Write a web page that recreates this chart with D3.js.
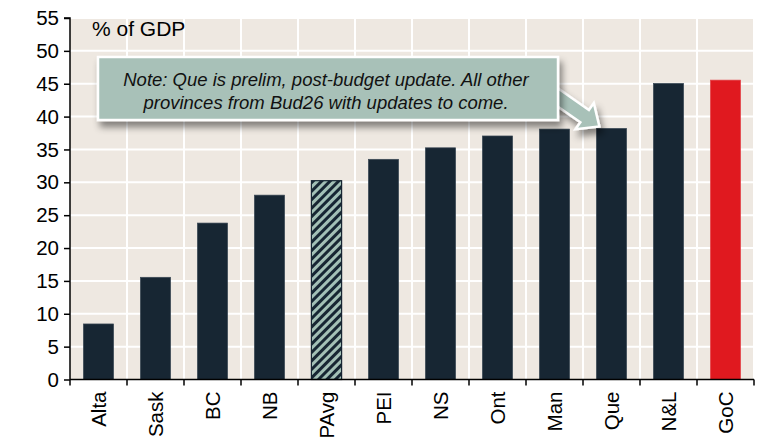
<!DOCTYPE html>
<html>
<head>
<meta charset="utf-8">
<script src="https://cdn.jsdelivr.net/npm/d3@7"></script>
<style>
  html, body { margin: 0; padding: 0; background: #ffffff; }
  svg { display: block; font-family: "Liberation Sans", Arial, sans-serif; }
</style>
</head>
<body>
<svg id="chart" width="764" height="440"></svg>
<script>
// ---- data ----
const categories = ["Alta", "Sask", "BC", "NB", "PAvg", "PEI", "NS", "Ont", "Man", "Que", "N&L", "GoC"];
const values = [8.45, 15.55, 23.8, 28.05, 30.25, 33.5, 35.25, 37.05, 38.1, 38.2, 45.05, 45.55];
const barKinds = ["solid", "solid", "solid", "solid", "hatch", "solid", "solid", "solid", "solid", "solid", "solid", "red"];
const yTicks = [0, 5, 10, 15, 20, 25, 30, 35, 40, 45, 50, 55];
const unitLabel = "% of GDP";
const noteLines = ["Note: Que is prelim, post-budget update. All other", "provinces from Bud26 with updates to come."];
const noteTarget = "Que";

// ---- layout ----
const svg = d3.select("#chart");
const plot = { left: 70, right: 754, top: 18, bottom: 379.5 };

const x = d3.scaleBand().domain(categories).range([plot.left, plot.right])
  .paddingInner(0.47).paddingOuter(0.235);
const y = d3.scaleLinear().domain([0, 55]).range([plot.bottom, plot.top]);

const defs = svg.append("defs");
const pat = defs.append("pattern").attr("id", "hatch")
  .attr("patternUnits", "userSpaceOnUse").attr("width", 6).attr("height", 6)
  .attr("patternTransform", "rotate(45)");
pat.append("rect").attr("width", 6).attr("height", 6).attr("fill", "#a3c0b6");
pat.append("rect").attr("width", 3).attr("height", 6).attr("fill", "#172633");

const shadow = defs.append("filter").attr("id", "shadow")
  .attr("x", "-20%").attr("y", "-40%").attr("width", "150%").attr("height", "200%");
shadow.append("feDropShadow").attr("dx", 3).attr("dy", 6).attr("stdDeviation", 3.5)
  .attr("flood-color", "#000").attr("flood-opacity", 0.45);

// background
svg.append("rect").attr("x", plot.left).attr("y", plot.top)
  .attr("width", plot.right - plot.left).attr("height", plot.bottom - plot.top)
  .attr("fill", "#eee8e1");

// horizontal grid
svg.append("g").selectAll("line").data(yTicks.filter(d => d > 0)).join("line")
  .attr("x1", plot.left).attr("x2", plot.right)
  .attr("y1", d => y(d)).attr("y2", d => y(d))
  .attr("stroke", "#ffffff").attr("stroke-width", 2);

// vertical grid at category boundaries
const step = x.step();
const bounds = d3.range(1, categories.length + 1).map(i => plot.left + i * step);
svg.append("g").selectAll("line").data(bounds).join("line")
  .attr("x1", d => d).attr("x2", d => d)
  .attr("y1", plot.top).attr("y2", plot.bottom)
  .attr("stroke", "#ffffff").attr("stroke-width", 2);

// bars
const fillFor = k => k === "hatch" ? "url(#hatch)" : (k === "red" ? "#e0191f" : "#172633");
const strokeFor = k => k === "hatch" ? "#172633" : (k === "red" ? "#e4474c" : "#3b4956");
svg.append("g").selectAll("rect").data(categories).join("rect")
  .attr("x", d => x(d)).attr("width", x.bandwidth())
  .attr("y", (d, i) => y(values[i])).attr("height", (d, i) => y(0) - y(values[i]))
  .attr("fill", (d, i) => fillFor(barKinds[i]))
  .attr("stroke", (d, i) => strokeFor(barKinds[i]))
  .attr("stroke-width", (d, i) => barKinds[i] === "hatch" ? 1.2 : 0.7);

// axes
const yAxis = d3.axisLeft(y).tickValues(yTicks).tickSize(6).tickPadding(5).tickFormat(d3.format("d"));
const gy = svg.append("g").attr("transform", `translate(${plot.left},0)`).call(yAxis);
gy.select(".domain").attr("stroke", "#000").attr("stroke-width", 1.5).attr("d", `M-6,${plot.top}H0V${plot.bottom}`);
gy.selectAll(".tick line").attr("stroke", "#000").attr("stroke-width", 1.5);
gy.selectAll(".tick text").attr("font-size", 20.5).attr("fill", "#000")
  .attr("font-family", "Liberation Sans, Arial, sans-serif");

const xAxis = d3.axisBottom(x).tickSize(0).tickPadding(0);
const gx = svg.append("g").attr("transform", `translate(0,${plot.bottom})`).call(xAxis);
gx.select(".domain").attr("stroke", "#000").attr("stroke-width", 1.5).attr("d", `M${plot.left},0H${plot.right}`);
gx.selectAll(".tick text")
  .attr("font-size", 20.5).attr("fill", "#000")
  .attr("font-family", "Liberation Sans, Arial, sans-serif")
  .attr("text-anchor", "end").attr("dy", null).attr("y", 0)
  .attr("transform", "translate(7.5,12) rotate(-90)");
// boundary ticks
gx.append("g").selectAll("line").data([plot.left].concat(bounds)).join("line")
  .attr("x1", d => d).attr("x2", d => d).attr("y1", 0).attr("y2", 6)
  .attr("stroke", "#000").attr("stroke-width", 1.5);

// unit label
svg.append("text").attr("x", 92).attr("y", 36).attr("font-size", 21).attr("fill", "#000")
  .text(unitLabel);

// callout arrow (behind box)
const tx = x(noteTarget) + 3, ty = y(values[categories.indexOf(noteTarget)]) - 2;
const sx = 530, sy = 78;
const ang = Math.atan2(ty - sy, tx - sx);
const ux = Math.cos(ang), uy = Math.sin(ang), px = -uy, py = ux;
const len = Math.hypot(tx - sx, ty - sy);
const hw = 7.5, hh = 16, hl = 18;
const P = (a, b) => [sx + ux * a + px * b, sy + uy * a + py * b];
const arrowPts = [P(0, -hw), P(len - hl, -hw), P(len - hl, -hh), P(len, 0), P(len - hl, hh), P(len - hl, hw), P(0, hw)];
svg.append("polygon").attr("points", arrowPts.map(p => p.join(",")).join(" "))
  .attr("fill", "#a8c1b8").attr("stroke", "#ffffff").attr("stroke-width", 2.5)
  .attr("stroke-linejoin", "miter").attr("filter", "url(#shadow)");

// callout box
const box = { x: 98, y: 57, w: 460, h: 63 };
svg.append("rect").attr("x", box.x).attr("y", box.y).attr("width", box.w).attr("height", box.h)
  .attr("fill", "#a8c1b8").attr("stroke", "#ffffff").attr("stroke-width", 2.5)
  .attr("filter", "url(#shadow)");
svg.append("g").selectAll("text").data(noteLines).join("text")
  .attr("x", box.x + box.w / 2 - 2).attr("y", (d, i) => box.y + 29 + i * 23)
  .attr("text-anchor", "middle").attr("font-size", 18.5).attr("font-style", "italic")
  .attr("fill", "#111").text(d => d);
</script>
</body>
</html>
